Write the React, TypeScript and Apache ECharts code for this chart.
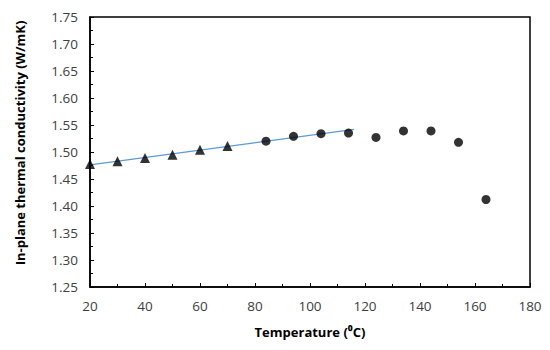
import React, { useEffect, useRef } from "react";
import * as echarts from "echarts";

const triTemps = [20, 30, 40, 50, 60, 70];
const triValues = [1.478, 1.483, 1.489, 1.495, 1.504, 1.511];
const circTemps = [84, 94, 104, 114, 124, 134, 144, 154, 164];
const circValues = [1.520, 1.529, 1.534, 1.535, 1.527, 1.539, 1.539, 1.518, 1.412];
const fitTemps = [20, 116];
const fitValues = [1.476, 1.542];
const xTitle = "Temperature (\u2070C)";
const yTitle = "In-plane thermal conductivity (W/mK)";

export default function App() {
  const ref = useRef<HTMLDivElement>(null);
  useEffect(() => {
    if (!ref.current) return;
    const chart = echarts.init(ref.current, null, { renderer: "svg" });
    const font = "'Open Sans', 'Liberation Sans', sans-serif";
    chart.setOption({
      animation: false,
      grid: { left: 90, right: 20, top: 17, bottom: 63, show: true, borderColor: "#000", borderWidth: 1.5 },
      xAxis: {
        type: "value",
        min: 20,
        max: 180,
        interval: 20,
        name: xTitle,
        nameLocation: "middle",
        nameGap: 38,
        nameTextStyle: { fontFamily: font, fontWeight: "bold", fontSize: 13, color: "#000" },
        axisLine: { show: true, lineStyle: { color: "#000", width: 1.5 } },
        axisTick: { show: true, inside: true, length: 4, lineStyle: { color: "#000" } },
        minorTick: { show: true, splitNumber: 2, length: 3, lineStyle: { color: "#000" } },
        axisLabel: { fontFamily: font, fontSize: 13.5, color: "#404040", margin: 12 },
        splitLine: { show: false },
      },
      yAxis: {
        type: "value",
        min: 1.25,
        max: 1.75,
        interval: 0.05,
        name: yTitle,
        nameLocation: "middle",
        nameGap: 64,
        nameTextStyle: { fontFamily: font, fontWeight: "bold", fontSize: 13, color: "#000", padding: [0, 0, 0, 18] },
        axisLine: { show: true, lineStyle: { color: "#000", width: 1.5 } },
        axisTick: { show: true, inside: true, length: 4, lineStyle: { color: "#000" } },
        minorTick: { show: true, splitNumber: 2, length: 3, lineStyle: { color: "#000" } },
        axisLabel: { fontFamily: font, fontSize: 13.5, color: "#404040", margin: 12, formatter: (v: number) => v.toFixed(2) },
        splitLine: { show: false },
      },
      series: [
        {
          type: "line",
          data: fitTemps.map((t, i) => [t, fitValues[i]]),
          showSymbol: false,
          lineStyle: { color: "#5b9bd5", width: 1.2 },
          z: 1,
        },
        {
          type: "scatter",
          data: triTemps.map((t, i) => [t, triValues[i]]),
          symbol: "triangle",
          symbolSize: 10,
          itemStyle: { color: "#000" },
          z: 3,
        },
        {
          type: "scatter",
          data: circTemps.map((t, i) => [t, circValues[i]]),
          symbol: "circle",
          symbolSize: 9,
          itemStyle: { color: "#000" },
          z: 3,
        },
      ],
    });
    return () => chart.dispose();
  }, []);
  return <div ref={ref} style={{ width: 550, height: 350, position: "absolute", left: 0, top: 0 }} />;
}
